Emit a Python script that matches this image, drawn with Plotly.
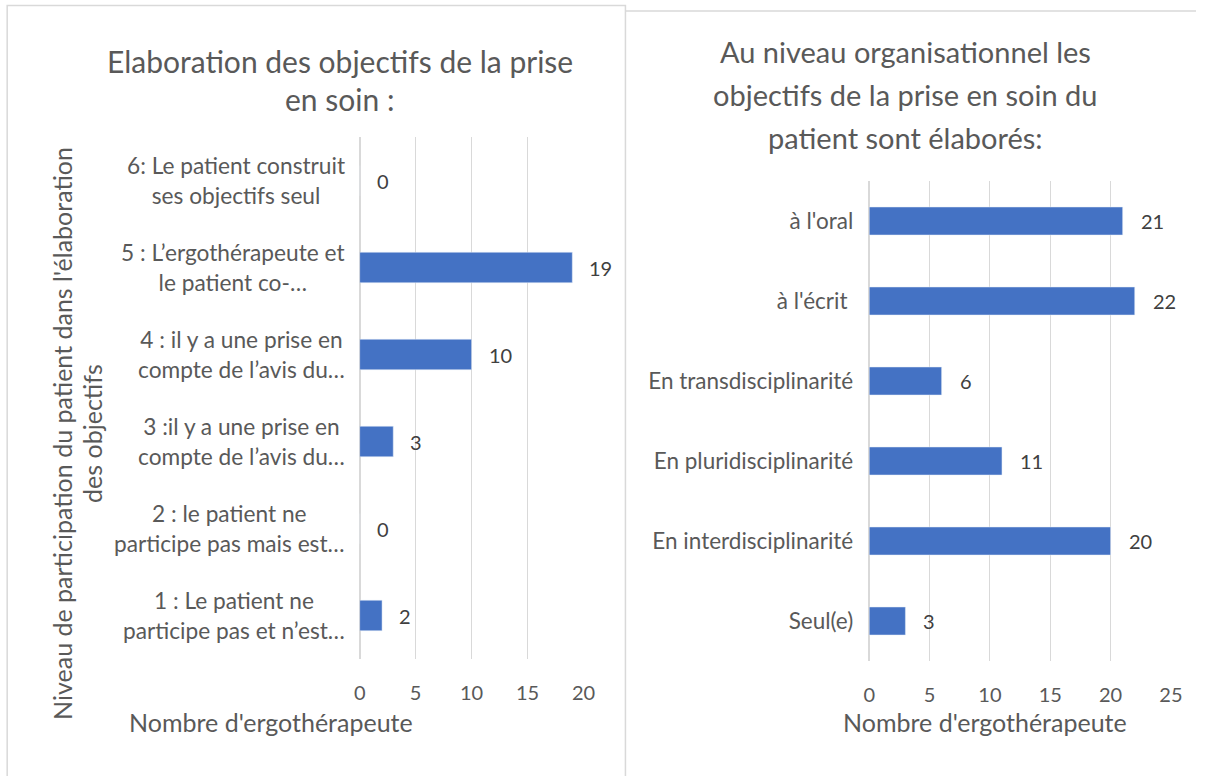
import plotly.graph_objects as go

# left chart: participation level of the patient (top -> bottom)
left_categories = [
    "6: Le patient construit<br>ses objectifs seul",
    "5 : L\u2019ergoth\u00e9rapeute et<br>le patient co-\u2026",
    "4 : il y a une prise en<br>compte de l\u2019avis du\u2026",
    "3 :il y a une prise en<br>compte de l\u2019avis du\u2026",
    "2 : le patient ne<br>participe pas mais est\u2026",
    "1 : Le patient ne<br>participe pas et n\u2019est\u2026",
]
left_values = [0, 19, 10, 3, 0, 2]
left_ticks = [0, 5, 10, 15, 20]

# right chart: organisational level (top -> bottom)
right_categories = [
    "\u00e0 l'oral",
    "\u00e0 l'\u00e9crit ",
    "En transdisciplinarit\u00e9",
    "En pluridisciplinarit\u00e9",
    "En interdisciplinarit\u00e9",
    "Seul(e)",
]
right_values = [21, 22, 6, 11, 20, 3]
right_ticks = [0, 5, 10, 15, 20, 25]

left_title = ["Elaboration des objectifs de la prise", "en soin :"]
right_title = ["Au niveau organisationnel les", "objectifs de la prise en soin du", "patient sont \u00e9labor\u00e9s:"]
left_ytitle = ["Niveau de participation du patient dans l'\u00e9laboration", "des objectifs"]
xtitle = "Nombre d'ergoth\u00e9rapeute"

W, H = 1208, 776
FONT = "Lato"
GREY = "#595959"
DARK = "#404040"
BLUE = "#4472C4"
GRID = "#D9D9D9"


def px(x):
    # horizontal pixel -> paper, with a small correction measured on the rendered page
    return (x - 4) / 0.986 / W


def py(y):
    return 1 - y / H


fig = go.Figure()
fig.add_trace(go.Bar(x=left_values, y=left_categories, orientation="h", width=0.35,
                     marker=dict(color=BLUE), xaxis="x", yaxis="y", showlegend=False))
fig.add_trace(go.Bar(x=right_values, y=right_categories, orientation="h", width=0.35,
                     marker=dict(color=BLUE), xaxis="x2", yaxis="y2", showlegend=False))

axis_common = dict(showgrid=True, gridcolor=GRID, gridwidth=1, zeroline=True, zerolinecolor=GRID,
                   showline=False, ticks="", tickfont=dict(family=FONT, size=20, color=GREY),
                   ticklabelstandoff=20, fixedrange=True)

fig.update_layout(
    width=W, height=H,
    margin=dict(l=0, r=0, t=0, b=0),
    paper_bgcolor="white", plot_bgcolor="white",
    xaxis=dict(domain=[px(358), px(582)], range=[0, 20], tickvals=left_ticks, anchor="y", **axis_common),
    yaxis=dict(domain=[py(659), py(137)], type="category", autorange="reversed",
               showticklabels=False, showgrid=False, anchor="x"),
    xaxis2=dict(domain=[px(868), px(1170)], range=[0, 25], tickvals=right_ticks, anchor="y2", **axis_common),
    yaxis2=dict(domain=[py(661), py(181)], type="category", autorange="reversed", showgrid=False,
                ticks="", ticklabelstandoff=15, anchor="x2",
                tickfont=dict(family=FONT, size=22.5, color=GREY)),
)

ann = []
# data labels
for v, c in zip(left_values, left_categories):
    ann.append(dict(x=v, y=c, xref="x", yref="y", text=str(v), showarrow=False, xanchor="left",
                    xshift=15, font=dict(family=FONT, size=20, color=DARK)))
for v, c in zip(right_values, right_categories):
    ann.append(dict(x=v, y=c, xref="x2", yref="y2", text=str(v), showarrow=False, xanchor="left",
                    xshift=16, font=dict(family=FONT, size=20, color=DARK)))
# left category labels, centred blocks
for c in left_categories:
    ann.append(dict(x=px(345), y=c, xref="paper", yref="y", text=c, showarrow=False, xanchor="right",
                    align="center", font=dict(family=FONT, size=22.7, color=GREY)))
# titles
for i, line in enumerate(left_title):
    ann.append(dict(x=px(338), y=py(61 + i * 38), xref="paper", yref="paper", text=line, showarrow=False,
                    xanchor="center", yanchor="middle", font=dict(family=FONT, size=30, color=GREY)))
for i, line in enumerate(right_title):
    ann.append(dict(x=px(904), y=py(52 + i * 42.5), xref="paper", yref="paper", text=line, showarrow=False,
                    xanchor="center", yanchor="middle", font=dict(family=FONT, size=29, color=GREY)))
for i, line in enumerate(left_ytitle):
    ann.append(dict(x=px(60 + i * 30), y=py(433), xref="paper", yref="paper", text=line, showarrow=False,
                    textangle=-90, xanchor="center", yanchor="middle",
                    font=dict(family=FONT, size=25, color=GREY)))
for xc in (269, 984):
    ann.append(dict(x=px(xc), y=py(722), xref="paper", yref="paper", text=xtitle, showarrow=False,
                    xanchor="center", yanchor="middle", font=dict(family=FONT, size=25, color=GREY)))
fig.update_layout(annotations=ann)

# panel borders
fig.add_shape(type="rect", xref="paper", yref="paper", x0=0.001, x1=px(624), y0=py(790), y1=py(5.5),
              line=dict(color=GRID, width=1.5), layer="below")
fig.add_shape(type="line", xref="paper", yref="paper", x0=px(624), x1=1.0, y0=py(11), y1=py(11),
              line=dict(color=GRID, width=1.5))

# drop the browser's default body margin so the figure fills the window
fig.write_html("out.html", config={"displayModeBar": False},
               post_script="document.body.style.margin='0';document.body.style.overflow='hidden';")
